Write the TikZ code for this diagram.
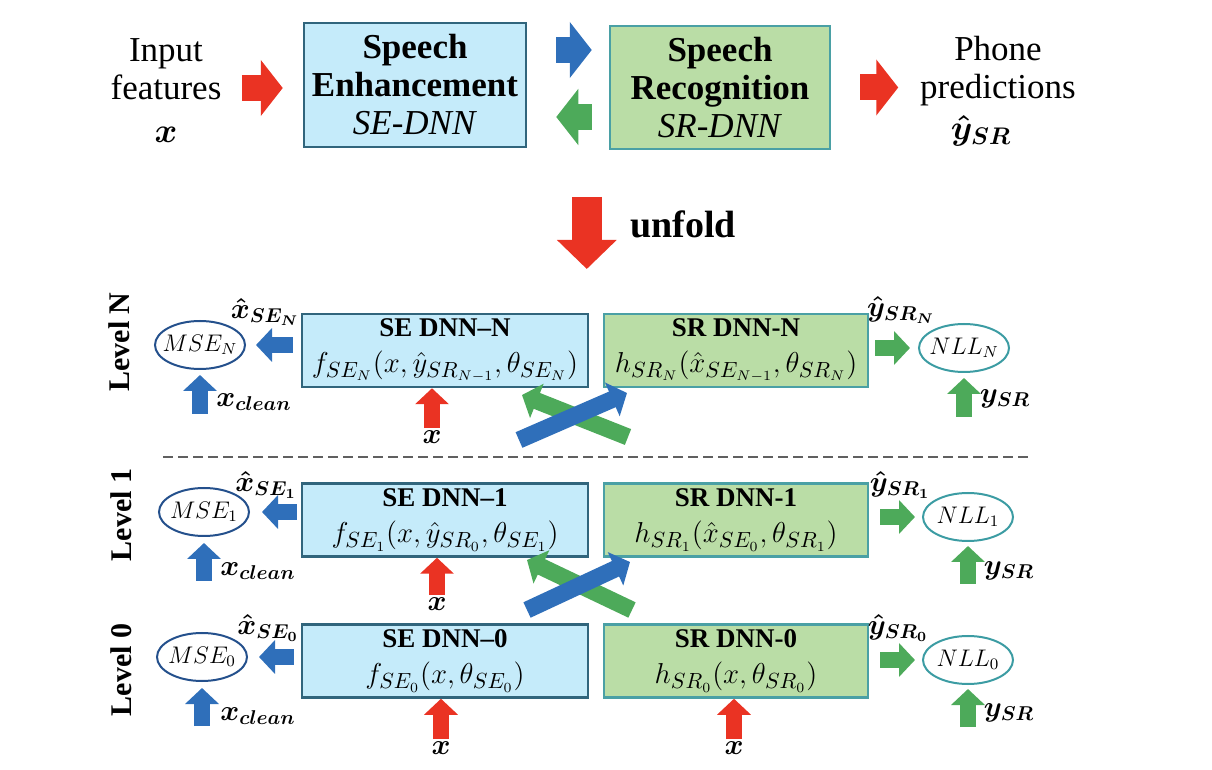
\documentclass[tikz,border=0pt]{standalone}
\usepackage{amsmath}
\usepackage{amssymb}
\usepackage{fontspec}
\setmainfont{Liberation Serif}
\usetikzlibrary{shapes.geometric,arrows.meta,positioning}

\definecolor{sefill}{RGB}{197,235,250}
\definecolor{seline}{RGB}{49,101,124}
\definecolor{srfill}{RGB}{186,221,166}
\definecolor{srline}{RGB}{74,160,165}
\definecolor{arrblue}{RGB}{47,111,186}
\definecolor{arrgreen}{RGB}{77,170,90}
\definecolor{arrred}{RGB}{234,51,35}
\definecolor{mseline}{RGB}{36,80,140}
\definecolor{nllline}{RGB}{60,156,163}

\newcommand{\boxtitle}{\fontsize{13.5}{15}\selectfont\bfseries}

\tikzset{
	topbox/.style={draw, line width=1.25pt, inner sep=0pt, align=center, font=\fontsize{17.5}{19}\selectfont},
	sebox/.style={draw=seline, fill=sefill, line width=1.25pt, minimum width=143pt, minimum height=36.5pt, inner sep=0pt, align=center, font=\fontsize{15}{18}\selectfont},
	srbox/.style={sebox, draw=srline, fill=srfill, minimum width=132pt},
	mse/.style={ellipse, draw=mseline, line width=1pt, minimum width=45pt, minimum height=24pt, inner ysep=0pt, inner xsep=-6pt, font=\fontsize{12}{14}\selectfont},
	nll/.style={mse, draw=nllline},
	lbl/.style={inner sep=0pt, font=\fontsize{14.5}{16}\selectfont},
	lvl/.style={rotate=90, inner sep=0pt, font=\fontsize{15}{17}\selectfont\bfseries},
	big/.style={line width=13pt, -{Triangle[width=27.5pt,length=11pt]}},
	blk/.style={line width=8pt, -{Triangle[width=16.5pt,length=8pt]}},
	cross/.style={line width=8.5pt, -{Triangle[width=18pt,length=8pt]}},
}

\begin{document}
\begin{tikzpicture}[x=0.5pt,y=-0.5pt]
	\useasboundingbox (0,0) rectangle (1212,770);

	\node[topbox, draw=seline, fill=sefill, minimum width=111pt, minimum height=62pt] (se) at (415,85)
		{\textbf{Speech}\\\textbf{Enhancement}\\\textit{SE-DNN}};
	\node[topbox, draw=srline, fill=srfill, minimum width=110pt, minimum height=61.5pt] (sr) at (720,87.5)
		{\textbf{Speech}\\\textbf{Recognition}\\\textit{SR-DNN}};
	\node[align=center, inner sep=0pt, font=\fontsize{17.5}{19}\selectfont] (infeat) at (166,69) {Input\\features};
	\node[lbl, font=\fontsize{17}{19}\selectfont] (inx) at (166,135) {$\boldsymbol{x}$};
	\node[align=center, inner sep=0pt, font=\fontsize{17.5}{19}\selectfont] (phone) at (998,71) {Phone\\predictions};
	\node[lbl, font=\fontsize{17}{19}\selectfont] (outy) at (981,131) {$\boldsymbol{\hat{y}_{SR}}$};

	\draw[big, arrred] (se.west) ++(-61,3) -- ++(41,0);
	\draw[big, arrblue, shorten <=14.5pt, shorten >=8.5pt] ([yshift=17.5pt]se.east) -- ([yshift=17.5pt]se.east -| sr.west);
	\draw[big, arrgreen, shorten <=8.5pt, shorten >=14.5pt] ([yshift=-16pt]se.east -| sr.west) -- ([yshift=-16pt]se.east);
	\draw[big, arrred] (sr.east) ++(29,0) -- ++(38,0);

	\node[inner sep=0pt, font=\fontsize{19}{21}\selectfont\bfseries] (unf) at (683,224) {unfold};
	\draw[line width=15pt, arrred, -{Triangle[width=29pt,length=14.5pt]}] (unf.west) ++(-43,-27) -- ++(0,72);

	\node[sebox] (seN) at (445,350.5) {{\boxtitle SE DNN--N}\\$f_{SE_N}(x,\hat{y}_{SR_{N-1}},\theta_{SE_N})$};
	\node[srbox] (srN) at (736,350.5) {{\boxtitle SR DNN-N}\\$h_{SR_N}(\hat{x}_{SE_{N-1}},\theta_{SR_N})$};
	\node[sebox] (se1) at (445,520) {{\boxtitle SE DNN--1}\\$f_{SE_1}(x,\hat{y}_{SR_0},\theta_{SE_1})$};
	\node[srbox] (sr1) at (736,520) {{\boxtitle SR DNN-1}\\$h_{SR_1}(\hat{x}_{SE_0},\theta_{SR_1})$};
	\node[sebox] (se0) at (445,661) {{\boxtitle SE DNN--0}\\$f_{SE_0}(x,\theta_{SE_0})$};
	\node[srbox] (sr0) at (736,661) {{\boxtitle SR DNN-0}\\$h_{SR_0}(x,\theta_{SR_0})$};

	\node[mse] (mseN) at (200,345) {$MSE_N$};
	\node[mse] (mse1) at (204,512) {$MSE_1$};
	\node[mse] (mse0) at (202,657) {$MSE_0$};
	\node[nll] (nllN) at (964,348) {$NLL_N$};
	\node[nll] (nll1) at (968,517) {$NLL_1$};
	\node[nll] (nll0) at (968,660) {$NLL_0$};

	\node[lvl] (lvN) at (119,342) {Level N};
	\node[lvl] (lv1) at (121,515) {Level 1};
	\node[lvl] (lv0) at (121,670) {Level 0};

	\node[lbl] (xhN) at (265,312) {$\boldsymbol{\hat{x}_{SE_N}}$};
	\node[lbl] (xh1) at (266,485) {$\boldsymbol{\hat{x}_{SE_1}}$};
	\node[lbl] (xh0) at (268,628) {$\boldsymbol{\hat{x}_{SE_0}}$};
	\node[lbl] (yhN) at (901,310) {$\boldsymbol{\hat{y}_{SR_N}}$};
	\node[lbl] (yh1) at (900,485) {$\boldsymbol{\hat{y}_{SR_1}}$};
	\node[lbl] (yh0) at (898,628) {$\boldsymbol{\hat{y}_{SR_0}}$};
	\node[lbl] (xcN) at (254,402) {$\boldsymbol{x_{clean}}$};
	\node[lbl] (xc1) at (258,571) {$\boldsymbol{x_{clean}}$};
	\node[lbl] (xc0) at (258,716) {$\boldsymbol{x_{clean}}$};
	\node[lbl] (ysN) at (1005,399) {$\boldsymbol{y_{SR}}$};
	\node[lbl] (ys1) at (1009,571) {$\boldsymbol{y_{SR}}$};
	\node[lbl] (ys0) at (1009,713) {$\boldsymbol{y_{SR}}$};
	\node[lbl] (xN) at (432,437) {$\boldsymbol{x}$};
	\node[lbl] (x1) at (437,604) {$\boldsymbol{x}$};
	\node[lbl] (x0) at (441,748) {$\boldsymbol{x}$};
	\node[lbl] (xs0) at (734,748) {$\boldsymbol{x}$};

	\draw[blk, arrblue, shorten <=4pt, shorten >=5pt] (seN.west |- mseN.east) -- (mseN.east);
	\draw[blk, arrblue, shorten <=2pt, shorten >=6pt] (se1.west |- mse1.east) -- (mse1.east);
	\draw[blk, arrblue, shorten <=3.5pt, shorten >=5.5pt] (se0.west |- mse0.east) -- (mse0.east);
	\draw[blk, arrgreen, shorten <=3pt, shorten >=4pt] (srN.east |- nllN.west) -- (nllN.west);
	\draw[blk, arrgreen, shorten <=5.5pt, shorten >=3.5pt] (sr1.east |- nll1.west) -- (nll1.west);
	\draw[blk, arrgreen, shorten <=5.5pt, shorten >=3.5pt] (sr0.east |- nll0.west) -- (nll0.west);

	\draw[blk, arrblue, shorten >=2.5pt] ([yshift=-22pt]mseN.south) -- (mseN.south);
	\draw[blk, arrblue, shorten >=3pt] ([yshift=-22pt]mse1.south) -- (mse1.south);
	\draw[blk, arrblue, shorten >=3pt] ([yshift=-22pt]mse0.south) -- (mse0.south);
	\draw[blk, arrgreen, shorten >=2.5pt] ([yshift=-22pt]nllN.south) -- (nllN.south);
	\draw[blk, arrgreen, shorten >=2pt] ([yshift=-21pt]nll1.south) -- (nll1.south);
	\draw[blk, arrgreen, shorten >=2pt] ([yshift=-21pt]nll0.south) -- (nll0.south);

	\draw[blk, arrred, shorten <=1pt] (xN.north) -- (xN.north |- seN.south);
	\draw[blk, arrred, shorten <=1pt] (x1.north) -- (x1.north |- se1.south);
	\draw[blk, arrred, shorten <=1pt] (x0.north) -- (x0.north |- se0.south);
	\draw[blk, arrred, shorten <=1pt] (xs0.north) -- (xs0.north |- sr0.south);

	\coordinate (gNs) at (628,437);
	\coordinate (gNe) at (522,395);
	\coordinate (bNs) at (519,440);
	\coordinate (bNe) at (627,393);
	\coordinate (g1s) at (632,610);
	\coordinate (g1e) at (527,560);
	\coordinate (b1s) at (527,610);
	\coordinate (b1e) at (630,562);
	\draw[cross, arrgreen] (gNs) -- (gNe);
	\draw[cross, arrblue] (bNs) -- (bNe);
	\draw[cross, arrgreen] (g1s) -- (g1e);
	\draw[cross, arrblue] (b1s) -- (b1e);

	\draw[line width=1pt, gray!75!black, dash pattern=on 5pt off 2.5pt] ([xshift=4.5pt]mseN.west |- 0,457) -- ([xshift=9.5pt]nllN.east |- 0,457);
\end{tikzpicture}
\end{document}
